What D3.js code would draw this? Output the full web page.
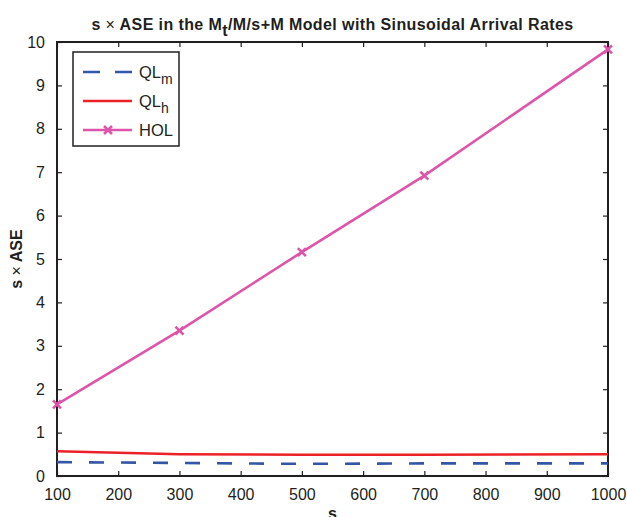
<!DOCTYPE html>
<html>
<head>
<meta charset="utf-8">
<script src="https://cdn.jsdelivr.net/npm/d3@7"></script>
<style>
  body { margin: 0; background: #fff; }
  svg { font-family: "Liberation Sans", Arial, sans-serif; }
</style>
</head>
<body>
<div id="chart"></div>
<script>
/* s x ASE vs s, Mt/M/s+M model */

const sValues = [100, 300, 500, 700, 1000];
const qlm = [0.32, 0.30, 0.28, 0.29, 0.29];
const qlh = [0.57, 0.50, 0.49, 0.49, 0.50];
const hol = [1.65, 3.35, 5.16, 6.92, 9.83];

const xTicks = [100, 200, 300, 400, 500, 600, 700, 800, 900, 1000];
const yTicks = [0, 1, 2, 3, 4, 5, 6, 7, 8, 9, 10];

const width = 627, height = 517;
const margin = {top: 42, right: 19, bottom: 41, left: 57};
const innerW = width - margin.left - margin.right;
const innerH = height - margin.top - margin.bottom;

const blue = "#3355a5", red = "#ec2127", pink = "#dc55aa", ink = "#231f20";

const svg = d3.select("#chart").append("svg")
  .attr("width", width)
  .attr("height", height);

const g = svg.append("g").attr("transform", `translate(${margin.left},${margin.top})`);

const x = d3.scaleLinear().domain([100, 1000]).range([0, innerW]);
const y = d3.scaleLinear().domain([0, 10]).range([innerH, 0]);

// axes, MATLAB style box with inward ticks
function styleAxis(sel) {
  sel.select(".domain").remove();
  sel.selectAll(".tick line").attr("stroke", ink).attr("stroke-width", 1.2);
  sel.selectAll("text").attr("fill", ink).attr("font-size", 16);
}

g.append("g")
  .attr("transform", `translate(0,${innerH})`)
  .call(d3.axisBottom(x).tickValues(xTicks).tickSizeInner(-5).tickSizeOuter(0).tickPadding(12.5).tickFormat(d3.format("d")))
  .call(styleAxis);

g.append("g")
  .call(d3.axisTop(x).tickValues(xTicks).tickSizeInner(-5).tickSizeOuter(0).tickFormat(""))
  .call(styleAxis);

g.append("g")
  .call(d3.axisLeft(y).tickValues(yTicks).tickSizeInner(-5).tickSizeOuter(0).tickPadding(12).tickFormat(d3.format("d")))
  .call(styleAxis);

g.append("g")
  .attr("transform", `translate(${innerW},0)`)
  .call(d3.axisRight(y).tickValues(yTicks).tickSizeInner(-5).tickSizeOuter(0).tickFormat(""))
  .call(styleAxis);

g.append("rect")
  .attr("width", innerW)
  .attr("height", innerH)
  .attr("fill", "none")
  .attr("stroke", ink)
  .attr("stroke-width", 2);

// series
const line = d3.line()
  .x(d => x(d[0]))
  .y(d => y(d[1]));

const zip = vals => sValues.map((s, i) => [s, vals[i]]);

g.append("path")
  .datum(zip(qlm))
  .attr("d", line)
  .attr("fill", "none")
  .attr("stroke", blue)
  .attr("stroke-width", 2.6)
  .attr("stroke-dasharray", "15,17");

g.append("path")
  .datum(zip(qlh))
  .attr("d", line)
  .attr("fill", "none")
  .attr("stroke", red)
  .attr("stroke-width", 2.6);

g.append("path")
  .datum(zip(hol))
  .attr("d", line)
  .attr("fill", "none")
  .attr("stroke", pink)
  .attr("stroke-width", 2.6);

function cross(sel, cx, cy) {
  const r = 4;
  sel.append("path")
    .attr("d", `M${cx - r},${cy - r}L${cx + r},${cy + r}M${cx - r},${cy + r}L${cx + r},${cy - r}`)
    .attr("stroke", pink)
    .attr("stroke-width", 2.6)
    .attr("fill", "none");
}

zip(hol).forEach(d => cross(g, x(d[0]), y(d[1])));

// legend
const leg = svg.append("g");
leg.append("rect")
  .attr("x", 73).attr("y", 52)
  .attr("width", 106).attr("height", 94)
  .attr("fill", "#fff")
  .attr("stroke", ink)
  .attr("stroke-width", 1.5);

const legItems = [
  {name: "QL", sub: "m", color: blue, dash: "17,15", y: 72},
  {name: "QL", sub: "h", color: red, dash: null, y: 101},
  {name: "HOL", sub: null, color: pink, dash: null, y: 130, mark: true}
];

legItems.forEach(it => {
  leg.append("line")
    .attr("x1", 83).attr("x2", 132)
    .attr("y1", it.y).attr("y2", it.y)
    .attr("stroke", it.color)
    .attr("stroke-width", 2.6)
    .attr("stroke-dasharray", it.dash);
  if (it.mark) cross(leg, 108, it.y);
  const t = leg.append("text")
    .attr("x", 139).attr("y", it.y + 6)
    .attr("font-size", 16.5)
    .attr("fill", ink)
    .text(it.name);
  if (it.sub) {
    t.append("tspan").attr("dy", 6).attr("font-size", 14).text(it.sub);
  }
});

// title and labels
const title = svg.append("text")
  .attr("x", margin.left + innerW / 2)
  .attr("y", 30)
  .attr("text-anchor", "middle")
  .attr("font-size", 16)
  .attr("letter-spacing", 0.4)
  .attr("font-weight", "bold")
  .attr("fill", ink);
title.append("tspan").text("s ");
title.append("tspan").attr("font-weight", "normal").text("\u00d7");
title.append("tspan").text(" ASE in the M");
title.append("tspan").attr("dy", 6).text("t");
title.append("tspan").attr("dy", -6).text("/M/s+M Model with Sinusoidal Arrival Rates");

const ylab = svg.append("text")
  .attr("transform", "translate(22,259) rotate(-90)")
  .attr("text-anchor", "middle")
  .attr("font-size", 16)
  .attr("font-weight", "bold")
  .attr("fill", ink);
ylab.append("tspan").text("s ");
ylab.append("tspan").attr("font-weight", "normal").text("\u00d7");
ylab.append("tspan").text(" ASE");

svg.append("text")
  .attr("x", margin.left + innerW / 2)
  .attr("y", 519)
  .attr("text-anchor", "middle")
  .attr("font-size", 16)
  .attr("font-weight", "bold")
  .attr("fill", ink)
  .text("s");
</script>
</body>
</html>
